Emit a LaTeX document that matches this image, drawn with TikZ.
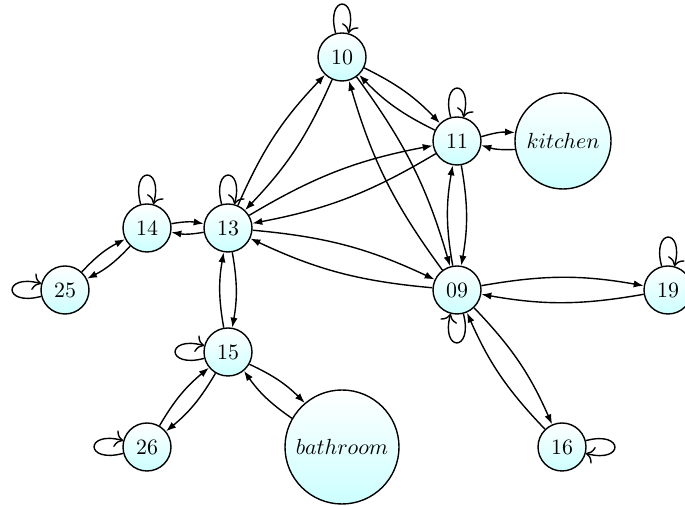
\documentclass[tikz,border=0pt]{standalone}
\usetikzlibrary{arrows.meta}
\tikzset{
	etat/.style={circle,draw,line width=0.7pt,top color=white,bottom color=cyan!20,minimum size=24pt,inner sep=0pt,font=\fontsize{11}{13}\selectfont},
	fleche/.style={-{Latex[length=5pt,width=3.6pt]},line width=0.7pt,bend left=10},
	boucle/.style={-{To[scale=1.3]},line width=0.7pt,looseness=8,min distance=5mm}
}
\begin{document}
\begin{tikzpicture}[x=0.5pt,y=-0.5pt]
\useasboundingbox (0,0) rectangle (685,506);

%Noeuds
\node[etat] (n10) at (342,57) {$10$};
\node[etat] (n11) at (457,141) {$11$};
\node[etat,minimum size=48pt] (kit) at (563,141) {$kitchen$};
\node[etat] (n14) at (147,228) {$14$};
\node[etat] (n13) at (228,228) {$13$};
\node[etat] (n25) at (65,290) {$25$};
\node[etat] (n09) at (457,290) {$09$};
\node[etat] (n19) at (668,290) {$19$};
\node[etat] (n15) at (228,352) {$15$};
\node[etat] (n26) at (147,447) {$26$};
\node[etat,minimum size=57pt] (bath) at (342,447) {$bathroom$};
\node[etat] (n16) at (562,447) {$16$};

%Transitions
\foreach \a/\b in {n10/n11,n11/n10,n10/n13,n13/n10,n10/n09,n09/n10,n11/n13,n13/n11,
	n11/n09,n09/n11,n11/kit,kit/n11,n13/n14,n14/n13,n13/n09,n09/n13,n13/n15,n15/n13,
	n14/n25,n25/n14,n09/n19,n19/n09,n09/n16,n16/n09,n15/n26,n26/n15,n15/bath,bath/n15}
	\draw[fleche] (\a) to (\b);

%Boucles
\foreach \n/\o/\i in {n10/105/75,n11/105/75,n13/105/75,n14/105/75,n19/105/75,
	n25/195/165,n15/195/165,n26/195/165,n09/285/255,n16/15/-15}
	\draw[boucle] (\n) to[loop,out=\o,in=\i] (\n);

\end{tikzpicture}
\end{document}
